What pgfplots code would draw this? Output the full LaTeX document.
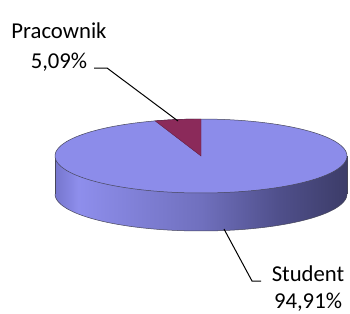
\documentclass[border=0pt]{standalone}
\usepackage{pgfplots}
\pgfplotsset{compat=1.18}
\usepackage{fontspec}
\setmainfont{Carlito}
\definecolor{topblue}{RGB}{140,140,234}
\definecolor{wedge}{RGB}{139,42,90}
\definecolor{edge}{RGB}{70,70,90}
\pgfdeclarehorizontalshading{sideshade}{100bp}{%
  color(0bp)=(rgb,255:red,118;green,118;blue,205);
  color(25bp)=(rgb,255:red,118;green,118;blue,205);
  color(29bp)=(rgb,255:red,142;green,142;blue,236);
  color(50bp)=(rgb,255:red,112;green,112;blue,190);
  color(63bp)=(rgb,255:red,80;green,80;blue,140);
  color(75bp)=(rgb,255:red,60;green,60;blue,104);
  color(100bp)=(rgb,255:red,60;green,60;blue,104)}
% data
\def\valPracownik{5.09}
\def\valStudent{94.91}
\def\cx{201}\def\cy{156}\def\rx{146}\def\ry{37}\def\dep{38}
\begin{document}
\begin{tikzpicture}
\begin{axis}[
  scale only axis, width=350pt, height=313pt,
  xmin=0, xmax=350, ymin=0, ymax=313, y dir=reverse,
  hide axis, clip=false]
% side: lower ellipse + band
\addplot[draw=none, shade, shading=sideshade, domain=180:360, samples=90]
  ({\cx+\rx*cos(x)},{\cy+\dep-\ry*sin(x)}) -- (axis cs:\cx+\rx,\cy) -- (axis cs:\cx-\rx,\cy) -- cycle;
\addplot[edge, line width=0.5pt, domain=180:360, samples=90]
  ({\cx+\rx*cos(x)},{\cy+\dep-\ry*sin(x)});
\addplot[edge, line width=0.5pt] coordinates {(\cx-\rx,\cy) (\cx-\rx,\cy+\dep)};
\addplot[edge, line width=0.5pt] coordinates {(\cx+\rx,\cy) (\cx+\rx,\cy+\dep)};
% top surface
\addplot[fill=topblue, draw=edge, line width=0.5pt, domain=0:360, samples=120]
  ({\cx+\rx*cos(x)},{\cy-\ry*sin(x)}) -- cycle;
% wedge Pracownik
\pgfmathsetmacro{\wend}{90+\valPracownik*3.6}
\addplot[fill=wedge, draw=wedge!70!black, line width=0.4pt, domain=90:\wend, samples=20]
  ({\cx+\rx*cos(x)},{\cy-\ry*sin(x)}) -- (axis cs:\cx,\cy) -- cycle;
% leader lines
\addplot[black, line width=1pt] coordinates {(94,68) (107,68) (178,121)};
\addplot[black, line width=1pt] coordinates {(224,229) (252,281) (261,281)};
% labels
\node[anchor=base, font=\fontsize{22.7}{27}\selectfont, inner sep=0pt] at (axis cs:59,39) {Pracownik};
\node[anchor=base, font=\fontsize{22.7}{27}\selectfont, inner sep=0pt] at (axis cs:59,68) {5,09\%};
\node[anchor=base, font=\fontsize{22.7}{27}\selectfont, inner sep=0pt] at (axis cs:308,281) {Student};
\node[anchor=base, font=\fontsize{22.7}{27}\selectfont, inner sep=0pt] at (axis cs:308,308) {94,91\%};
\end{axis}
\pgfresetboundingbox
\path (current axis.south west) rectangle (current axis.north east);
\end{tikzpicture}
\end{document}
